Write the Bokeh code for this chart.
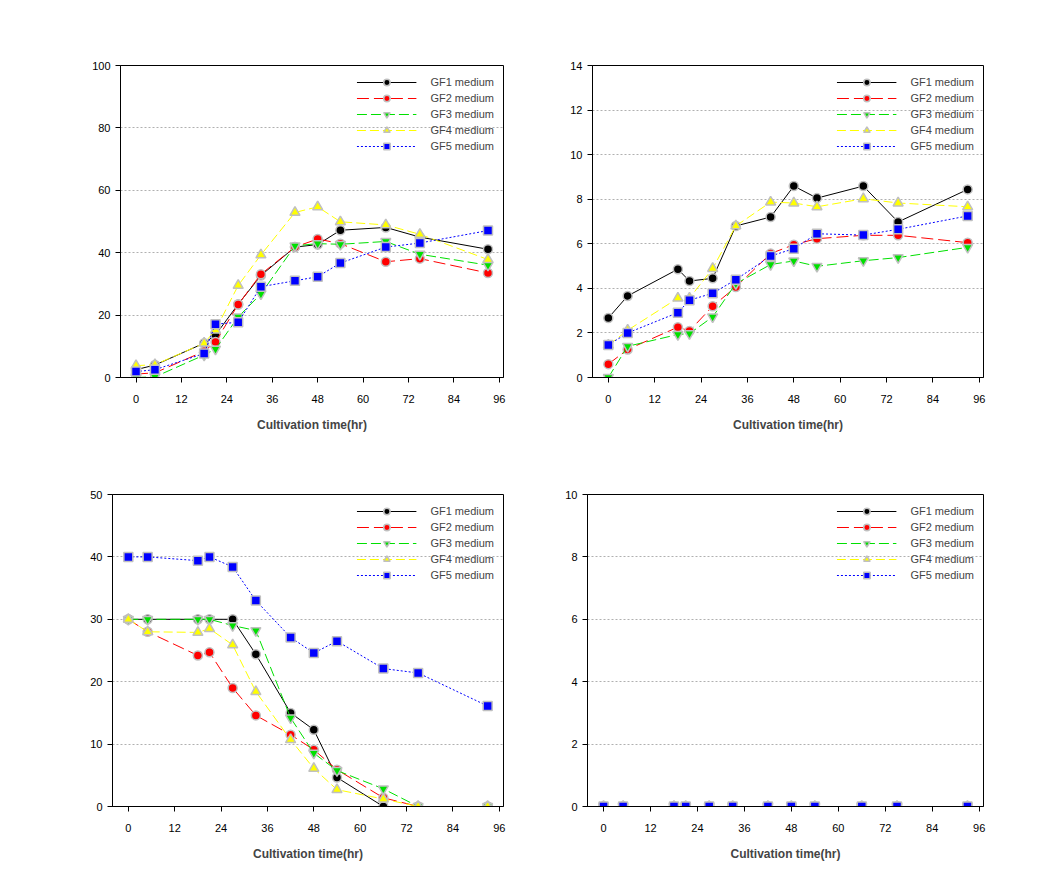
from bokeh.plotting import figure
from bokeh.models import Range1d, FixedTicker, Legend, LegendItem
from bokeh.layouts import column, row
from bokeh.embed import file_html
from bokeh.resources import INLINE

times = [0, 5, 18, 21, 27, 33, 42, 48, 54, 66, 75, 93]
x_ticks = [0, 12, 24, 36, 48, 60, 72, 84, 96]
labels = ["GF1 medium", "GF2 medium", "GF3 medium", "GF4 medium", "GF5 medium"]

# Panel A (top-left)
gf1_a = [2.5, 4.0, 11.0, 13.6, 23.5, 32.7, 41.8, 42.6, 47.2, 48.1, 45.0, 41.1]
gf2_a = [1.1, 1.5, 8.4, 11.4, 23.4, 33.1, 41.8, 44.4, 42.9, 37.1, 38.1, 33.5]
gf3_a = [0.0, 0.2, 7.2, 9.1, 19.4, 26.8, 42.2, 42.9, 42.7, 43.6, 39.5, 36.0]
gf4_a = [3.8, 4.1, 11.0, 15.2, 29.5, 39.3, 52.9, 54.7, 49.9, 48.9, 45.9, 37.8]
gf5_a = [1.9, 2.5, 7.7, 17.1, 17.7, 29.1, 31.0, 32.3, 36.7, 41.8, 43.1, 47.1]
ticks_a = [0, 20, 40, 60, 80, 100]

# Panel B (top-right)
gf1_b = [2.67, 3.66, 4.86, 4.33, 4.45, 6.80, 7.20, 8.59, 8.05, 8.59, 6.98, 8.44]
gf2_b = [0.60, 1.26, 2.26, 2.09, 3.20, 4.06, 5.56, 5.96, 6.23, 6.38, 6.38, 6.05]
gf3_b = [0.0, 1.40, 1.93, 1.97, 2.72, 4.21, 5.07, 5.23, 4.99, 5.24, 5.38, 5.84]
gf4_b = [1.45, 2.12, 3.56, 3.56, 4.89, 6.80, 7.87, 7.83, 7.66, 8.02, 7.83, 7.66]
gf5_b = [1.46, 2.00, 2.91, 3.47, 3.78, 4.39, 5.45, 5.78, 6.45, 6.39, 6.65, 7.25]
ticks_b = [0, 2, 4, 6, 8, 10, 12, 14]

# Panel C (bottom-left)
gf1_c = [30, 30, 30, 30, 30.0, 24.4, 15.0, 12.3, 4.65, 0, 0, 0]
gf2_c = [30, 28.0, 24.2, 24.7, 19.0, 14.6, 11.5, 9.1, 5.9, 1.4, 0, 0]
gf3_c = [30, 30, 30, 30, 29.0, 28.2, 14.2, 8.55, 5.77, 2.83, 0, 0]
gf4_c = [30, 28.0, 27.9, 28.5, 25.9, 18.4, 10.7, 6.1, 2.7, 1.2, 0, 0]
gf5_c = [40.0, 40.0, 39.4, 40.0, 38.4, 33.0, 27.1, 24.6, 26.5, 22.1, 21.4, 16.1]
ticks_c = [0, 10, 20, 30, 40, 50]

# Panel D (bottom-right)
gf1_d = [0, 0, 0, 0, 0, 0, 0, 0, 0, 0, 0, 0]
gf2_d = [0, 0, 0, 0, 0, 0, 0, 0, 0, 0, 0, 0]
gf3_d = [0, 0, 0, 0, 0, 0, 0, 0, 0, 0, 0, 0]
gf4_d = [0, 0, 0, 0, 0, 0, 0, 0, 0, 0, 0, 0]
gf5_d = [0, 0, 0, 0, 0, 0, 0, 0, 0, 0, 0, 0]
ticks_d = [0, 2, 4, 6, 8, 10]

STYLES = [
    dict(color="#000000", dash="solid", marker="circle", size=9),
    dict(color="#ff0000", dash="12 5", marker="circle", size=9),
    dict(color="#00e000", dash="10 4", marker="inverted_triangle", size=10),
    dict(color="#ffff00", dash="9 4", marker="triangle", size=10),
    dict(color="#0000ff", dash="2 2", marker="square", size=9),
]
FONT = "Liberation Sans"


def make_panel(series, yticks, bl, br, bt, bb, fw, fh):
    p = figure(frame_width=fw, frame_height=fh, min_border_left=bl, min_border_right=br,
               min_border_top=bt, min_border_bottom=bb, output_backend="svg",
               toolbar_location=None, x_range=Range1d(-4.1, 97.1),
               y_range=Range1d(yticks[0], yticks[-1]))
    p.background_fill_color = "white"
    p.border_fill_color = "white"
    p.outline_line_color = "black"
    p.outline_line_alpha = 1
    p.outline_line_width = 1
    p.xgrid.visible = False
    p.ygrid.ticker = FixedTicker(ticks=yticks)
    p.ygrid.grid_line_color = "#b0b0b0"
    p.ygrid.grid_line_dash = "2 2"
    p.xaxis.ticker = FixedTicker(ticks=x_ticks)
    p.yaxis.ticker = FixedTicker(ticks=yticks)
    for ax in (p.xaxis[0], p.yaxis[0]):
        ax.axis_line_color = "black"
        ax.major_tick_line_color = "black"
        ax.major_tick_in = 0
        ax.major_tick_out = 5
        ax.minor_tick_line_color = None
        ax.major_label_text_font = FONT
        ax.major_label_text_font_size = "11px"
        ax.major_label_text_color = "black"
    p.xaxis.major_label_standoff = 12
    p.yaxis.major_label_standoff = 5
    p.xaxis.axis_label = "Cultivation time(hr)"
    p.xaxis.axis_label_text_font = FONT
    p.xaxis.axis_label_text_font_size = "12px"
    p.xaxis.axis_label_text_font_style = "bold"
    p.xaxis.axis_label_standoff = 12

    items = []
    for lab, ys, st in zip(labels, series, STYLES):
        lr = p.line(times, ys, line_color=st["color"], line_width=1, line_dash=st["dash"])
        sr = p.scatter(times, ys, marker=st["marker"], size=st["size"],
                       fill_color=st["color"], line_color="#c0c0c0", line_width=1.5)
        items.append(LegendItem(label=lab, renderers=[lr, sr]))
    leg = Legend(items=items, location="top_right", glyph_width=60, glyph_height=16,
                 label_height=15, spacing=0, padding=0, margin=9, label_standoff=14,
                 background_fill_alpha=0, border_line_alpha=0,
                 label_text_font=FONT, label_text_font_size="11px")
    p.add_layout(leg)
    return p


pa = make_panel([gf1_a, gf2_a, gf3_a, gf4_a, gf5_a], ticks_a, 120, 27, 65, 58, 383, 312)
pb = make_panel([gf1_b, gf2_b, gf3_b, gf4_b, gf5_b], ticks_b, 62, 78, 65, 58, 391, 312)
pc = make_panel([gf1_c, gf2_c, gf3_c, gf4_c, gf5_c], ticks_c, 112, 27, 59, 63, 391, 312)
pd = make_panel([gf1_d, gf2_d, gf3_d, gf4_d, gf5_d], ticks_d, 57, 78, 59, 63, 396, 312)

layout = column(row(pa, pb), row(pc, pd))
open("out.html", "w").write(file_html(layout, INLINE))
